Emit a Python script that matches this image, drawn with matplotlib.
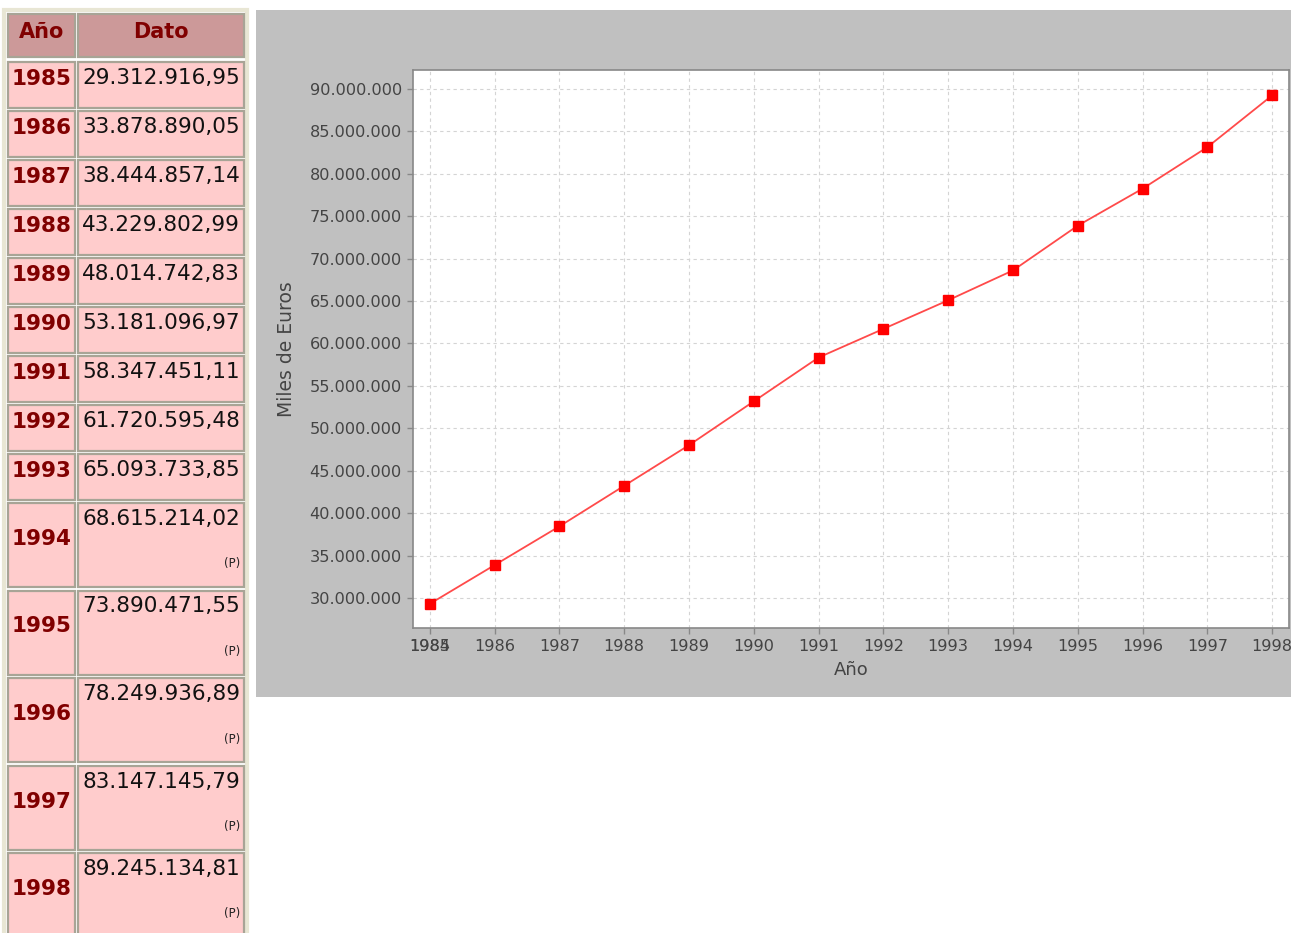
import matplotlib
matplotlib.use("Agg")
import matplotlib.pyplot as plt
from matplotlib.patches import Rectangle
from matplotlib.ticker import FuncFormatter, FixedLocator
from matplotlib.transforms import ScaledTranslation

# ---------------- data ----------------
years = [1985, 1986, 1987, 1988, 1989, 1990, 1991, 1992, 1993, 1994, 1995, 1996, 1997, 1998]
values = [29312916.95, 33878890.05, 38444857.14, 43229802.99, 48014742.83, 53181096.97,
          58347451.11, 61720595.48, 65093733.85, 68615214.02, 73890471.55, 78249936.89,
          83147145.79, 89245134.81]
provisional = [False] * 9 + [True] * 5
header = ["Año", "Dato"]
y_ticks = [30000000, 35000000, 40000000, 45000000, 50000000, 55000000, 60000000,
           65000000, 70000000, 75000000, 80000000, 85000000, 90000000]
x_label = "Año"
y_label = "Miles de Euros"
extra_tick_label = "1984"


def es_fmt(v, dec=2):
    s = f"{v:,.{dec}f}"
    return s.replace(",", "X").replace(".", ",").replace("X", ".")


W, H = 1291, 933
fig = plt.figure(figsize=(W / 100, H / 100), dpi=100)
fig.patch.set_facecolor("white")

# ---------- overlay in pixel coords ----------
bg = fig.add_axes([0, 0, 1, 1], zorder=0)
bg.set_xlim(0, W)
bg.set_ylim(H, 0)
bg.axis("off")

# chart panel
bg.add_patch(Rectangle((256, 10), W - 256, 687, facecolor="#c0c0c0", edgecolor="none"))

# table
fam = ["DejaVu Sans"]
bg.add_patch(Rectangle((4, 10), 243, H, facecolor="white", edgecolor="#e8e6d4", lw=3))
col_x = [(8, 75), (78, 244)]
cell_edge = "#a8a496"

# header
for (x0, x1), txt in zip(col_x, header):
    bg.add_patch(Rectangle((x0, 14), x1 - x0, 43, facecolor="#cc9999", edgecolor=cell_edge, lw=1.6))
    bg.text((x0 + x1) / 2, 32, txt, ha="center", va="center", fontsize=15, fontweight="bold",
            color="#800000", family=fam)

top = 62.0
for yr, v, p in zip(years, values, provisional):
    h = 84 if p else 46
    pitch = 87.5 if p else 49
    for (x0, x1) in col_x:
        bg.add_patch(Rectangle((x0, top), x1 - x0, h, facecolor="#ffcccc", edgecolor=cell_edge, lw=1.6))
    yc = top + (36 if p else 17)
    bg.text(41.5, yc, str(yr), ha="center", va="center", fontsize=15.5, fontweight="bold",
            color="#800000", family=fam)
    bg.text(240, top + 16, es_fmt(v), ha="right", va="center", fontsize=15.5, color="#111111",
            family=fam)
    if p:
        bg.text(240, top + 61, "(P)", ha="right", va="center", fontsize=8.5, color="#222222",
                family=fam)
    top += pitch

# ---------- chart ----------
L, R, T, B = 413, 1289, 70, 628
ax = fig.add_axes([L / W, 1 - B / H, (R - L) / W, (B - T) / H], zorder=2)
ax.set_facecolor("white")
ax.plot(years, values, color="#ff4a4a", lw=1.3, marker="s", ms=6.5, mfc="#ff0000",
        mec="#ff0000", zorder=3)

ax.set_xlim(1984.74, 1998.26)
ax.set_ylim(26.46e6, 92.24e6)
ax.xaxis.set_major_locator(FixedLocator(years))
ax.set_xticklabels([str(y) for y in years])
ax.yaxis.set_major_locator(FixedLocator(y_ticks))
ax.yaxis.set_major_formatter(FuncFormatter(lambda v, pos: es_fmt(v, 0)))

ax.grid(True, color="#d4d4d4", lw=0.8, linestyle=(0, (3, 3)))
for s in ax.spines.values():
    s.set_color("#888888")
    s.set_linewidth(1.2)
TL, PAD, LS = 4, 4, 11.6
ax.tick_params(direction="out", length=TL, width=1, color="#888888", labelcolor="#444444",
               labelsize=LS, pad=PAD)
for lab in ax.get_xticklabels() + ax.get_yticklabels():
    lab.set_family(fam)

# overlapping first-tick label as in the source (drawn at the same spot as "1985")
off = ScaledTranslation(0, -(TL + PAD) / 72, fig.dpi_scale_trans)
ax.text(years[0], 0, extra_tick_label, transform=ax.get_xaxis_transform() + off,
        ha="center", va="top", fontsize=LS, color="#444444", family=fam)

ax.set_xlabel(x_label, fontsize=13, color="#444444", labelpad=5, family=fam)
ax.set_ylabel(y_label, fontsize=13.5, color="#444444", labelpad=10, family=fam)

fig.savefig("out.png", dpi=100)
